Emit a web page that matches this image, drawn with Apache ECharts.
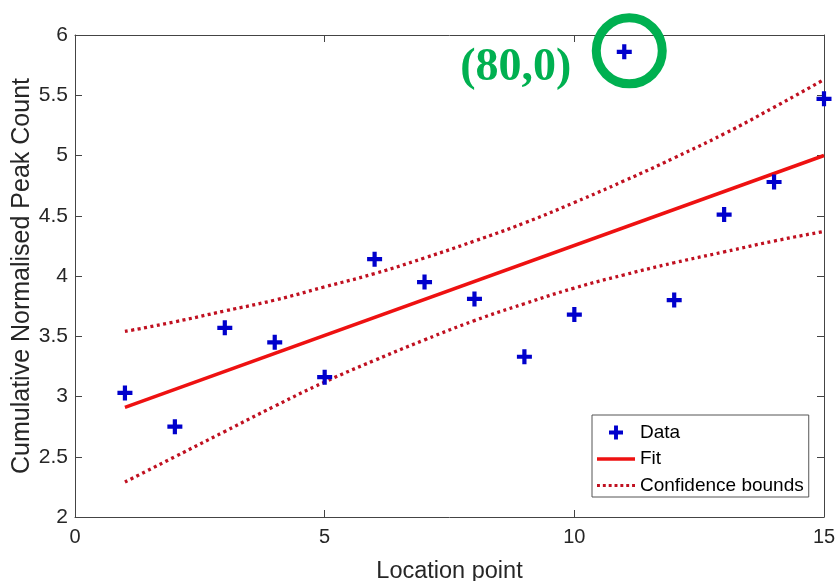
<!DOCTYPE html>
<html>
<head>
<meta charset="utf-8">
<script src="https://cdn.jsdelivr.net/npm/echarts@6/dist/echarts.min.js"></script>
<style>html,body{margin:0;padding:0;background:#fff;}#c{width:839px;height:581px;}</style>
</head>
<body>
<div id="c"></div>
<script>
var xs = [1,2,3,4,5,6,7,8,9,10,11,12,13,14,15];
var dataY = [3.03,2.75,3.57,3.45,3.16,4.14,3.95,3.81,3.33,3.68,5.86,3.80,4.51,4.78,5.47];
var fitX = [1, 15];
var fitY = [2.91, 5.00];
var upperY = [3.54,3.62,3.71,3.80,3.91,4.02,4.15,4.29,4.44,4.61,4.79,4.98,5.18,5.40,5.63];
var lowerY = [2.29,2.50,2.71,2.92,3.12,3.30,3.47,3.63,3.77,3.90,4.01,4.11,4.20,4.29,4.37];
var xTicks = [0,5,10,15];
var yTicks = [2,2.5,3,3.5,4,4.5,5,5.5,6];
var annotText = '(80,0)';
var annotIndex = 10;

function pairs(xv, ys){ return xv.map(function(x,i){ return [x, ys[i]]; }); }

var plus = 'path://M3.6,0H6.4V3.6H10V6.4H6.4V10H3.6V6.4H0V3.6H3.6Z';
var lineIcon = 'path://M0,0H38V3.5H0Z';
var dotIcon = 'path://M0,0h3v3h-3zM6,0h3v3h-3zM12,0h3v3h-3zM18,0h3v3h-3zM24,0h3v3h-3zM30,0h3v3h-3zM36,0h3v3h-3z';
var axisColor = '#444';
var labelColor = '#262626';
var font = 'Liberation Sans, Arial, sans-serif';
var blue = '#0000cc';
var red = '#ee1111';
var dred = '#c01020';

var chart = echarts.init(document.getElementById('c'), null, {renderer:'canvas'});
var common = {
  type: 'value',
  axisLine: {show: true, onZero: false, lineStyle: {color: axisColor, width: 1}},
  axisTick: {show: true, inside: true, length: 7, lineStyle: {color: axisColor}},
  splitLine: {show: false}
};
chart.setOption({
  animation: false,
  backgroundColor: '#fff',
  grid: {left: 75, right: 15, top: 35, bottom: 64, containLabel: false, outerBoundsMode: 'none'},
  xAxis: [
    Object.assign({}, common, {
      position: 'bottom', min: xTicks[0], max: xTicks[xTicks.length-1], interval: 5,
      name: 'Location point', nameLocation: 'middle', nameGap: 43, nameMoveOverlap: false,
      nameTextStyle: {fontFamily: font, fontSize: 23.5, color: labelColor},
      axisLabel: {fontFamily: font, fontSize: 20, color: labelColor, margin: 10}
    }),
    Object.assign({}, common, {
      position: 'top', min: xTicks[0], max: xTicks[xTicks.length-1], interval: 5,
      axisLabel: {show: false}
    })
  ],
  yAxis: [
    Object.assign({}, common, {
      position: 'left', min: yTicks[0], max: yTicks[yTicks.length-1], interval: 0.5,
      name: 'Cumulative Normalised Peak Count', nameLocation: 'middle', nameGap: 40, nameMoveOverlap: false,
      nameTextStyle: {fontFamily: font, fontSize: 25, color: labelColor},
      axisLabel: {fontFamily: font, fontSize: 21, color: labelColor, margin: 7}
    }),
    Object.assign({}, common, {
      position: 'right', min: yTicks[0], max: yTicks[yTicks.length-1], interval: 0.5,
      axisLabel: {show: false}
    })
  ],
  legend: {
    orient: 'vertical', left: 592, top: 415,
    padding: [8, 5, 2, 5], itemGap: 7.5, itemWidth: 38, itemHeight: 14,
    backgroundColor: '#fff', borderColor: '#555', borderWidth: 1,
    textStyle: {fontFamily: font, fontSize: 19, color: '#000'},
    data: [
      {name: 'Data', icon: plus, itemStyle: {color: blue}},
      {name: 'Fit', icon: lineIcon, itemStyle: {color: red}},
      {name: 'Confidence bounds', icon: dotIcon, itemStyle: {color: dred}}
    ]
  },
  series: [
    {
      name: 'Confidence bounds', type: 'line', data: pairs(xs, upperY), symbol: 'none', smooth: true,
      lineStyle: {color: dred, width: 3.3, type: [3, 3.5]}, itemStyle: {color: dred}
    },
    {
      name: 'Confidence bounds', type: 'line', data: pairs(xs, lowerY), symbol: 'none', smooth: true,
      lineStyle: {color: dred, width: 3.3, type: [3, 3.5]}, itemStyle: {color: dred}
    },
    {
      name: 'Fit', type: 'line', data: pairs(fitX, fitY), symbol: 'none',
      lineStyle: {color: red, width: 3.5}, itemStyle: {color: red}
    },
    {
      name: 'Data', type: 'scatter', data: pairs(xs, dataY), symbol: plus, symbolSize: 15,
      itemStyle: {color: blue, opacity: 1}, z: 5
    }
  ]
});

var p = chart.convertToPixel({xAxisIndex: 0, yAxisIndex: 0}, [xs[annotIndex], dataY[annotIndex]]);
chart.setOption({
  graphic: [
    {
      type: 'circle', shape: {cx: p[0] + 5, cy: p[1] - 1, r: 33},
      style: {fill: 'none', stroke: '#00b050', lineWidth: 9}, z: 10
    },
    {
      type: 'text', x: p[0] - 53, y: p[1] + 16,
      style: {text: annotText, fill: '#00b050', font: 'bold 46px "Liberation Serif", "Times New Roman", serif',
        align: 'right', verticalAlign: 'middle'}, z: 10
    }
  ]
});
</script>
</body>
</html>
